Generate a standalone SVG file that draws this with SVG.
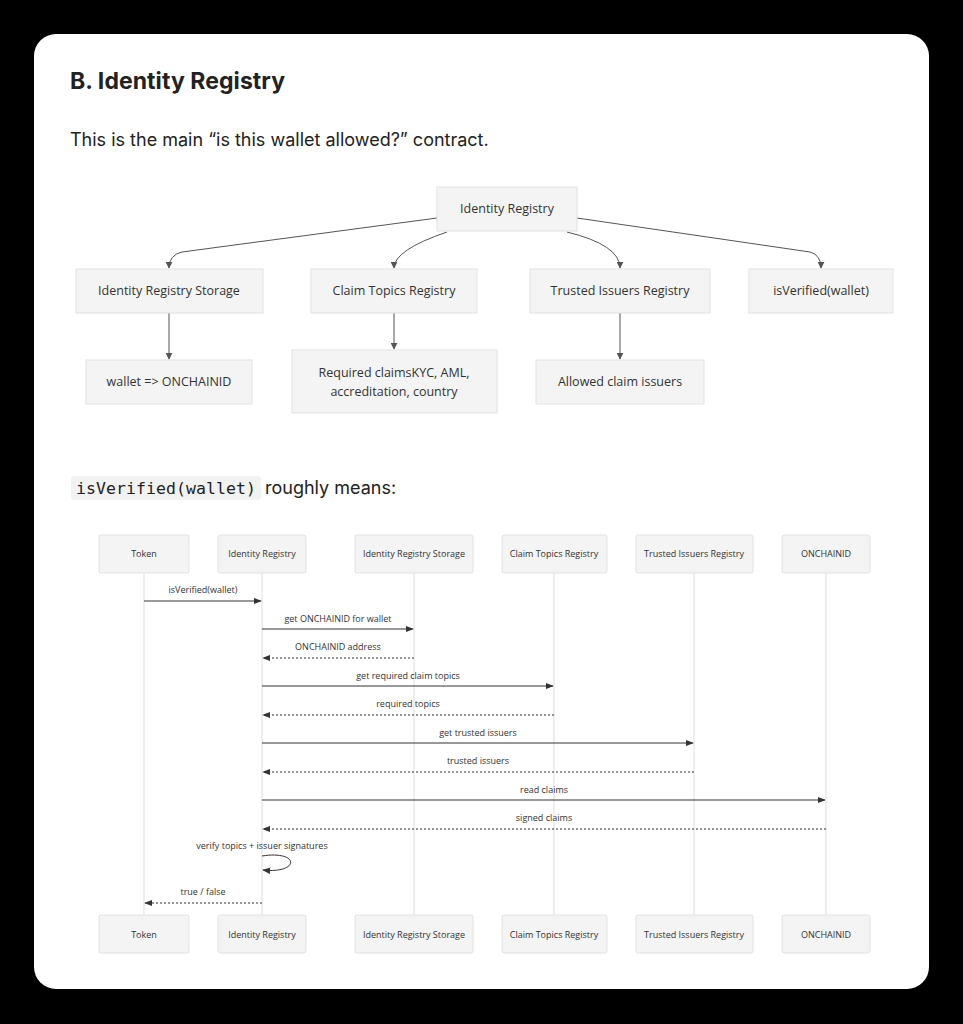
<svg xmlns="http://www.w3.org/2000/svg" width="963" height="1024" viewBox="0 0 963 1024">
<style>
.n{fill:#f4f4f4;stroke:#e2e2e2;stroke-width:1}
.t{font-family:"Open Sans","DejaVu Sans",sans-serif;font-size:12.5px;fill:#333;text-anchor:middle}
.s{font-family:"Open Sans","DejaVu Sans",sans-serif;font-size:9px;fill:#333;text-anchor:middle}
.e{fill:none;stroke:#555;stroke-width:1}
.m{fill:none;stroke:#333;stroke-width:1}
.d{fill:none;stroke:#333;stroke-width:1;stroke-dasharray:2,2}
.l{stroke:#ddd;stroke-width:1}
</style>
<defs>
<marker id="a" viewBox="0 0 10 10" refX="9" refY="5" markerWidth="7" markerHeight="7" orient="auto"><path d="M0,0L10,5L0,10z" fill="#555"/></marker>
<marker id="b" viewBox="0 0 10 10" refX="9" refY="5" markerWidth="8" markerHeight="8" orient="auto"><path d="M0,1L10,5L0,9z" fill="#333"/></marker>
</defs>
<rect width="963" height="1024" fill="#000"/>
<rect x="34" y="34" width="895" height="955" rx="22" fill="#fff"/>
<text x="70" y="89" font-family="Inter,'Liberation Sans',sans-serif" font-size="23" font-weight="bold" fill="#222" textLength="215">B. Identity Registry</text>
<text x="70" y="146" font-family="Inter,'Liberation Sans',sans-serif" font-size="18" fill="#222">This is the main “is this wallet allowed?” contract.</text>
<g id="edges">
<path class="e" d="M437,218 L182,252 Q169,255 169,268" marker-end="url(#a)"/>
<path class="e" d="M447,232 Q394,250 394,268" marker-end="url(#a)"/>
<path class="e" d="M567,232 Q620,245 620,268" marker-end="url(#a)"/>
<path class="e" d="M577,218 L810,252 Q821,255 821,268" marker-end="url(#a)"/>
<path class="e" d="M169,313 V359" marker-end="url(#a)"/>
<path class="e" d="M394,313 V349" marker-end="url(#a)"/>
<path class="e" d="M620,313 V359" marker-end="url(#a)"/>
</g>
<g id="n-ir"><rect class="n" x="437" y="187" width="140" height="44"/><text class="t" x="507" y="213">Identity Registry</text></g>
<g id="n-irs"><rect class="n" x="76" y="269" width="187" height="44"/><text class="t" x="169" y="295">Identity Registry Storage</text></g>
<g id="n-ctr"><rect class="n" x="311" y="269" width="166" height="44"/><text class="t" x="394" y="295">Claim Topics Registry</text></g>
<g id="n-tir"><rect class="n" x="530" y="269" width="180" height="44"/><text class="t" x="620" y="295">Trusted Issuers Registry</text></g>
<g id="n-iv"><rect class="n" x="749" y="269" width="144" height="44"/><text class="t" x="821" y="295">isVerified(wallet)</text></g>
<g id="n-w"><rect class="n" x="86" y="360" width="166" height="44"/><text class="t" x="169" y="386">wallet =&gt; ONCHAINID</text></g>
<g id="n-rc"><rect class="n" x="292" y="350" width="205" height="63"/><text class="t" x="394" y="377">Required claimsKYC, AML,</text><text class="t" x="394" y="396">accreditation, country</text></g>
<g id="n-ai"><rect class="n" x="536" y="360" width="168" height="44"/><text class="t" x="620" y="386">Allowed claim issuers</text></g>
<rect x="71" y="476" width="190" height="24" rx="4" fill="#f2f2f2"/>
<text x="76" y="494" font-family="'DejaVu Sans Mono','Liberation Mono',monospace" font-size="16.5" fill="#222" textLength="180">isVerified(wallet)</text>
<text x="265" y="494" font-family="Inter,'Liberation Sans',sans-serif" font-size="18" fill="#222">roughly means:</text>
<g id="lifelines">
<line class="l" x1="144" y1="573" x2="144" y2="915"/>
<line class="l" x1="262" y1="573" x2="262" y2="915"/>
<line class="l" x1="414" y1="573" x2="414" y2="915"/>
<line class="l" x1="554" y1="573" x2="554" y2="915"/>
<line class="l" x1="694" y1="573" x2="694" y2="915"/>
<line class="l" x1="826" y1="573" x2="826" y2="915"/>
</g>
<g id="a-token"><rect class="n" x="99" y="535" width="90" height="38" rx="2"/><text class="s" x="144" y="557">Token</text><rect class="n" x="99" y="915" width="90" height="38" rx="2"/><text class="s" x="144" y="938">Token</text></g>
<g id="a-ir"><rect class="n" x="218" y="535" width="88" height="38" rx="2"/><text class="s" x="262" y="557">Identity Registry</text><rect class="n" x="218" y="915" width="88" height="38" rx="2"/><text class="s" x="262" y="938">Identity Registry</text></g>
<g id="a-irs"><rect class="n" x="355" y="535" width="118" height="38" rx="2"/><text class="s" x="414" y="557">Identity Registry Storage</text><rect class="n" x="355" y="915" width="118" height="38" rx="2"/><text class="s" x="414" y="938">Identity Registry Storage</text></g>
<g id="a-ctr"><rect class="n" x="502" y="535" width="105" height="38" rx="2"/><text class="s" x="554" y="557">Claim Topics Registry</text><rect class="n" x="502" y="915" width="105" height="38" rx="2"/><text class="s" x="554" y="938">Claim Topics Registry</text></g>
<g id="a-tir"><rect class="n" x="636" y="535" width="117" height="38" rx="2"/><text class="s" x="694" y="557">Trusted Issuers Registry</text><rect class="n" x="636" y="915" width="117" height="38" rx="2"/><text class="s" x="694" y="938">Trusted Issuers Registry</text></g>
<g id="a-oid"><rect class="n" x="782" y="535" width="88" height="38" rx="2"/><text class="s" x="826" y="557">ONCHAINID</text><rect class="n" x="782" y="915" width="88" height="38" rx="2"/><text class="s" x="826" y="938">ONCHAINID</text></g>
<g id="messages">
<line class="m" x1="144" y1="601" x2="261" y2="601" marker-end="url(#b)"/><text class="s" x="203" y="593">isVerified(wallet)</text>
<line class="m" x1="262" y1="629" x2="413" y2="629" marker-end="url(#b)"/><text class="s" x="338" y="622">get ONCHAINID for wallet</text>
<line class="d" x1="414" y1="658" x2="263" y2="658" marker-end="url(#b)"/><text class="s" x="338" y="650">ONCHAINID address</text>
<line class="m" x1="262" y1="686" x2="553" y2="686" marker-end="url(#b)"/><text class="s" x="408" y="679">get required claim topics</text>
<line class="d" x1="554" y1="715" x2="263" y2="715" marker-end="url(#b)"/><text class="s" x="408" y="707">required topics</text>
<line class="m" x1="262" y1="743" x2="693" y2="743" marker-end="url(#b)"/><text class="s" x="478" y="736">get trusted issuers</text>
<line class="d" x1="694" y1="772" x2="263" y2="772" marker-end="url(#b)"/><text class="s" x="478" y="764">trusted issuers</text>
<line class="m" x1="262" y1="800" x2="825" y2="800" marker-end="url(#b)"/><text class="s" x="544" y="793">read claims</text>
<line class="d" x1="826" y1="829" x2="263" y2="829" marker-end="url(#b)"/><text class="s" x="544" y="821">signed claims</text>
<path class="m" d="M262,856 C300,850 300,874 263,870" marker-end="url(#b)"/><text class="s" x="262" y="849">verify topics + issuer signatures</text>
<line class="d" x1="262" y1="903" x2="145" y2="903" marker-end="url(#b)"/><text class="s" x="203" y="895">true / false</text>
</g>
</svg>
